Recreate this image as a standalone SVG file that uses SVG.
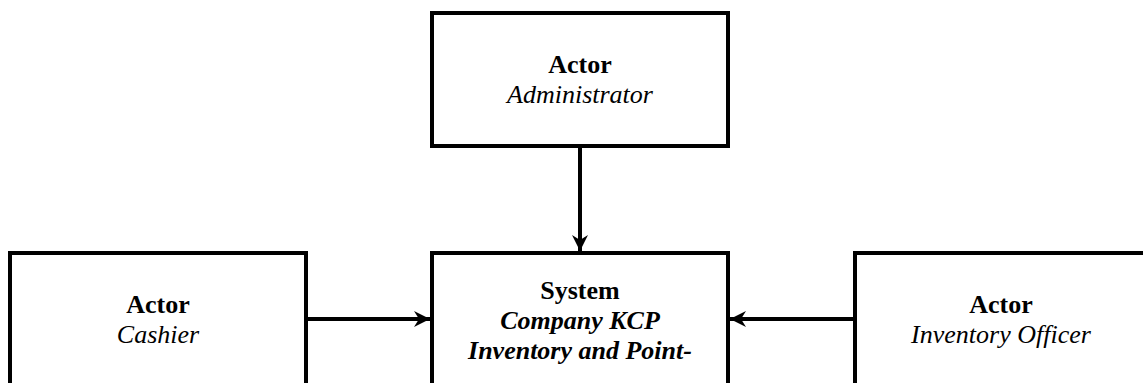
<svg xmlns="http://www.w3.org/2000/svg" width="1143" height="383" viewBox="0 0 1143 383">
<style>
.box{fill:#fff;stroke:#000;stroke-width:4}
.t{font-family:"Liberation Serif","Times New Roman",serif;font-size:26px;text-anchor:middle;fill:#000}
.b{font-weight:bold}
.i{font-style:italic}
.conn{stroke:#000;stroke-width:4;fill:none}
</style>
<defs>
<marker id="ah" markerUnits="userSpaceOnUse" markerWidth="18" markerHeight="18" viewBox="0 0 18 18" refX="17" refY="9" orient="auto">
<path d="M1,1 L17,9 L1,17 L6,9 Z" fill="#000"/>
</marker>
</defs>
<rect width="1143" height="383" fill="#fff"/>
<g id="admin">
<rect class="box" x="432" y="13" width="296" height="133"/>
<text class="t b" x="580" y="73">Actor</text>
<text class="t i" x="580" y="103">Administrator</text>
</g>
<g id="cashier">
<rect class="box" x="10" y="253" width="296" height="140"/>
<text class="t b" x="158" y="313">Actor</text>
<text class="t i" x="158" y="343">Cashier</text>
</g>
<g id="system">
<rect class="box" x="432" y="253" width="296" height="140"/>
<text class="t b" x="580" y="299">System</text>
<text class="t b i" x="580" y="329">Company KCP</text>
<text class="t b i" x="580" y="359">Inventory and Point-</text>
</g>
<g id="officer">
<rect class="box" x="855" y="253" width="296" height="140"/>
<text class="t b" x="1001" y="313">Actor</text>
<text class="t i" x="1001" y="343">Inventory Officer</text>
</g>
<g id="connectors">
<line class="conn" x1="580" y1="146" x2="580" y2="251" marker-end="url(#ah)"/>
<line class="conn" x1="306" y1="319" x2="430" y2="319" marker-end="url(#ah)"/>
<line class="conn" x1="855" y1="319" x2="730" y2="319" marker-end="url(#ah)"/>
</g>
</svg>
